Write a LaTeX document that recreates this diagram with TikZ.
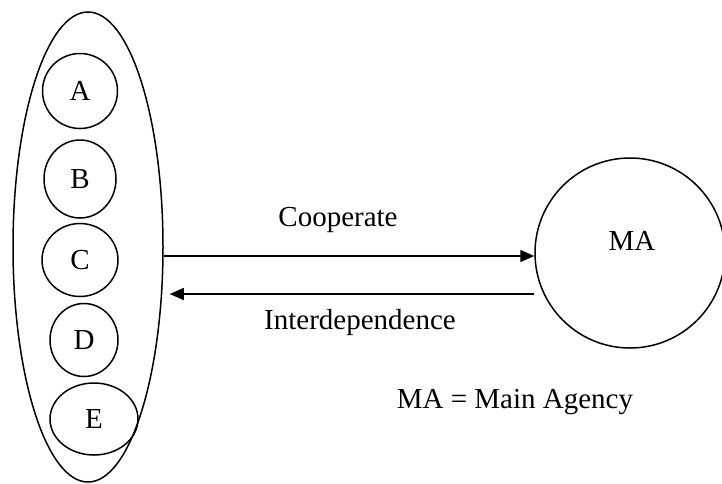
\documentclass[tikz,border=0pt]{standalone}
\usepackage{fontspec}
\setmainfont{Liberation Serif}
\usetikzlibrary{shapes.geometric,arrows.meta}
\tikzset{
  outline/.style={draw, line width=1.5pt, ellipse, inner sep=0pt},
  member/.style={outline},
  link/.style={line width=1.5pt, -{Triangle[length=14pt,width=12pt]}},
  lbl/.style={inner sep=0pt},
}
\begin{document}
\begin{tikzpicture}[x=1pt,y=-1pt,font=\fontsize{29}{32}\selectfont]
  \useasboundingbox (0,0) rectangle (722,483);
  % group of agencies
  \node[outline, minimum width=150pt, minimum height=470pt] (grp) at (88,247) {};
  \node[member, minimum width=75pt, minimum height=75pt] (a) at (80,91) {A};
  \node[member, minimum width=72pt, minimum height=78pt] (b) at (80,179) {B};
  \node[member, minimum width=76pt, minimum height=73pt] (c) at (80,260) {C};
  \node[member, minimum width=68pt, minimum height=73pt] (d) at (84,340) {D};
  \node[member, minimum width=88pt, minimum height=72pt] (e) at (94,419) {E};
  % main agency
  \node[outline, circle, minimum size=190pt] (ma) at (630,253) {};
  \node[lbl] (mal) at (632,241) {MA};
  % relations
  \draw[link] ([yshift=-3pt]grp.east |- ma.west) -- ([yshift=-3pt]ma.west);
  \draw[link, shorten >=6pt] ([yshift=-41pt]ma.west) -- ([yshift=-41pt]grp.east |- ma.west);
  \node[lbl] (coop) at (338,220) {Cooperate};
  \node[lbl] (inter) at (360,323) {Interdependence};
  \node[lbl] (key) at (515,402) {MA = Main Agency};
\end{tikzpicture}
\end{document}
